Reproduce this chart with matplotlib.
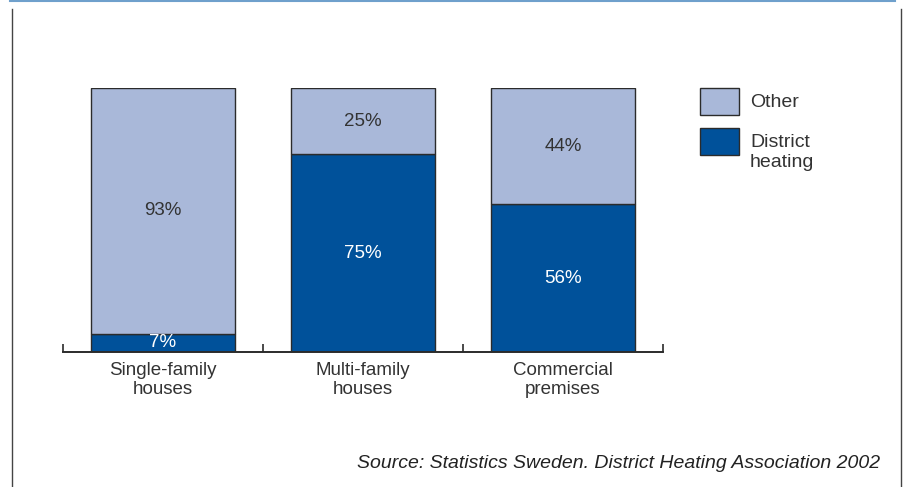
import matplotlib.pyplot as plt
from matplotlib.lines import Line2D
from matplotlib.patches import Rectangle

plt.rcParams['font.family'] = ['Liberation Sans', 'DejaVu Sans']

categories = ['Single-family\nhouses', 'Multi-family\nhouses', 'Commercial\npremises']
district = [7, 75, 56]
other = [93, 25, 44]
series_names = ['Other', 'District\nheating']

c_other = '#a9b8d9'
c_district = '#00519a'
c_edge = '#2b2b2b'
c_text = '#333333'

W, H = 904, 487
fig = plt.figure(figsize=(W / 100, H / 100), dpi=100)

# plot area in pixels: x 63..663, baseline y 352, 100% at y 88
ax = fig.add_axes([63 / W, (H - 352) / H, 600 / W, 264 / H])
x = list(range(len(categories)))
ax.bar(x, district, width=0.72, color=c_district, edgecolor=c_edge, linewidth=1.0)
ax.bar(x, other, width=0.72, bottom=district, color=c_other, edgecolor=c_edge, linewidth=1.0)

for i in x:
    ax.text(i, district[i] / 2, f'{district[i]}%', ha='center', va='center',
            color='white', fontsize=13.5)
    ax.text(i, district[i] + other[i] / 2, f'{other[i]}%', ha='center', va='center',
            color=c_text, fontsize=13.5)

ax.set_xlim(-0.5, len(categories) - 0.5)
ax.set_ylim(0, 100)
for s in ['top', 'left', 'right']:
    ax.spines[s].set_visible(False)
ax.spines['bottom'].set_linewidth(1.4)
ax.spines['bottom'].set_color(c_edge)
ax.set_yticks([])
ax.set_xticks([i - 0.5 for i in range(len(categories) + 1)])
ax.set_xticklabels([])
ax.tick_params(axis='x', direction='in', length=6, width=1.2, color=c_edge)
for i, lab in enumerate(categories):
    ax.text(i, -3.6, lab, ha='center', va='top', fontsize=13.5, color=c_text,
            linespacing=1.2)

# legend drawn by hand as figure patches
leg_colors = [c_other, c_district]
leg_tops = [88, 128]
for name, col, top in zip(series_names, leg_colors, leg_tops):
    fig.patches.append(Rectangle((700 / W, (H - top - 27) / H), 39 / W, 27 / H,
                                 transform=fig.transFigure, facecolor=col,
                                 edgecolor=c_edge, linewidth=1.0))
    fig.text(750 / W, (H - top - 6) / H, name, ha='left', va='top',
             fontsize=14, color=c_text, linespacing=1.2)

fig.text(880 / W, (H - 463) / H, 'Source: Statistics Sweden. District Heating Association 2002',
         ha='right', va='center', fontsize=14, style='italic', color='#222222')

# frame lines
fig.lines.append(Line2D([10 / W, 895 / W], [(H - 1) / H] * 2, transform=fig.transFigure,
                        color='#6fa0cc', linewidth=1.5))
fig.lines.append(Line2D([12 / W] * 2, [0, (H - 9) / H], transform=fig.transFigure,
                        color='#444444', linewidth=1.0))
fig.lines.append(Line2D([901 / W] * 2, [0, (H - 9) / H], transform=fig.transFigure,
                        color='#444444', linewidth=1.0))

fig.savefig('out.png', dpi=100, facecolor='white')
